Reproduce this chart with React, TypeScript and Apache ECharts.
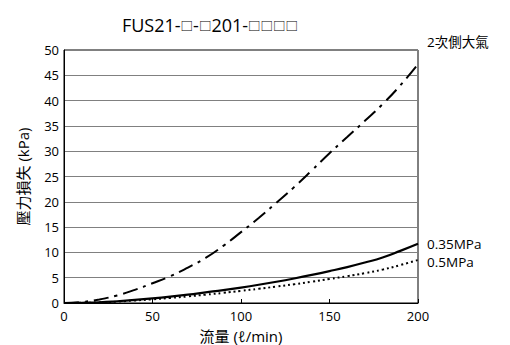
import React, { useEffect, useRef } from "react";
import * as echarts from "echarts";

const flows = [0, 10, 20, 30, 40, 50, 60, 70, 80, 90, 100, 110, 120, 130, 140, 150, 160, 170, 180, 190, 200];
const secondaryAtm = [0, 0.2, 0.7, 1.5, 2.6, 3.9, 5.3, 7.0, 8.9, 11.3, 14.0, 16.8, 19.8, 22.9, 26.2, 29.6, 32.8, 36.0, 39.3, 43.0, 47.2];
const mpa035 = [0, 0.05, 0.15, 0.35, 0.6, 0.9, 1.25, 1.65, 2.1, 2.55, 3.05, 3.6, 4.2, 4.85, 5.55, 6.3, 7.1, 8.0, 9.0, 10.3, 11.7];
const mpa05 = [0, 0.04, 0.12, 0.28, 0.5, 0.72, 1.0, 1.3, 1.65, 2.0, 2.4, 2.8, 3.25, 3.7, 4.2, 4.75, 5.3, 5.9, 6.6, 7.5, 8.5];
const seriesNames = ["2次側大氣", "0.35MPa", "0.5MPa"];
const titleParts = ["FUS21-", "□", "-", "□", "201-", "□□□□"];
const xName = "流量 (ℓ/min)";
const yName = "壓力損失 (kPa)";

const FONT = "'Open Sans', 'Noto Sans', 'Noto Sans CJK TC', sans-serif";

export default function App() {
  const ref = useRef<HTMLDivElement>(null);
  useEffect(() => {
    if (!ref.current) return;
    const chart = echarts.init(ref.current, undefined, { renderer: "svg" });
    const toPts = (arr: number[]) => flows.map((x, i) => [x, arr[i]]);
    const titleRich = titleParts.map((p) => (p.indexOf("□") >= 0 ? `{b|${p}}` : `{a|${p}}`)).join("");
    const labelStyle = (offset: number[]) => ({
      show: true,
      formatter: "{a}",
      color: "#000",
      fontSize: 13.5,
      fontFamily: FONT,
      distance: 9,
      offset,
    });
    chart.setOption({
      animation: false,
      backgroundColor: "#fff",
      graphic: [
        {
          type: "text",
          x: 210,
          y: 25,
          style: {
            text: titleRich,
            fontSize: 18,
            fontFamily: FONT,
            fill: "#000",
            align: "center",
            verticalAlign: "middle",
            rich: {
              a: { fontSize: 18, fontFamily: FONT, fill: "#000" },
              b: { fontSize: 12.5, fontFamily: FONT, fill: "#000", padding: [3, 0, 0, 0] },
            },
          },
        },
      ],
      grid: {
        left: 64,
        right: 92,
        top: 50,
        bottom: 42,
        outerBoundsMode: "none",
        containLabel: false,
        show: true,
        borderColor: "#000",
        borderWidth: 1,
      },
      xAxis: {
        type: "value",
        min: 0,
        max: 200,
        interval: 50,
        name: xName,
        nameLocation: "middle",
        nameGap: 25,
        nameTextStyle: { fontSize: 15, color: "#000", fontFamily: FONT },
        axisLine: { show: true, lineStyle: { color: "#000", width: 1 } },
        axisTick: { show: true, inside: true, length: 4, lineStyle: { color: "#000" } },
        axisLabel: { fontSize: 13, color: "#000", fontFamily: FONT, margin: 6 },
        splitLine: { show: false },
      },
      yAxis: {
        type: "value",
        min: 0,
        max: 50,
        interval: 5,
        name: yName,
        nameLocation: "middle",
        nameGap: 34,
        nameRotate: 90,
        nameTextStyle: { fontSize: 15, color: "#000", fontFamily: FONT },
        axisLine: { show: true, lineStyle: { color: "#000", width: 1 } },
        axisTick: { show: false },
        axisLabel: { fontSize: 13, color: "#000", fontFamily: FONT, margin: 5 },
        splitLine: { show: true, lineStyle: { color: "#808080", width: 1 } },
      },
      series: [
        {
          name: seriesNames[0],
          type: "line",
          data: toPts(secondaryAtm),
          smooth: true,
          showSymbol: false,
          lineStyle: { color: "#000", width: 2, type: [15, 6, 3, 6] },
          endLabel: labelStyle([0, -22]),
        },
        {
          name: seriesNames[1],
          type: "line",
          data: toPts(mpa035),
          smooth: true,
          showSymbol: false,
          lineStyle: { color: "#000", width: 2.2, type: "solid" },
          endLabel: labelStyle([0, 0]),
        },
        {
          name: seriesNames[2],
          type: "line",
          data: toPts(mpa05),
          smooth: true,
          showSymbol: false,
          lineStyle: { color: "#000", width: 2, type: [2, 3] },
          endLabel: labelStyle([0, 2]),
        },
      ],
    });
    return () => chart.dispose();
  }, []);
  return <div ref={ref} style={{ width: 510, height: 345, position: "absolute", left: 0, top: 0 }} />;
}
